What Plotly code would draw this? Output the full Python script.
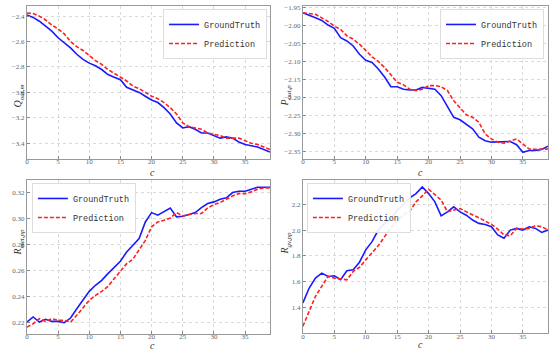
import plotly.graph_objects as go

c = list(range(40))

q_gt = [-2.39, -2.41, -2.44, -2.48, -2.518, -2.57, -2.61, -2.65, -2.70, -2.74, -2.77, -2.79, -2.82, -2.86, -2.88, -2.90,
        -2.96, -2.98, -3.00, -3.03, -3.06, -3.08, -3.12, -3.17, -3.24, -3.28, -3.27, -3.29, -3.32, -3.32,
        -3.34, -3.36, -3.35, -3.36, -3.39, -3.41, -3.42, -3.43, -3.45, -3.47]
q_pr = [-2.375, -2.38, -2.40, -2.43, -2.47, -2.50, -2.54, -2.60, -2.64, -2.67, -2.71, -2.75, -2.78, -2.82, -2.85, -2.88,
        -2.91, -2.95, -2.97, -3.00, -3.03, -3.05, -3.08, -3.12, -3.17, -3.24, -3.27, -3.28, -3.29, -3.32,
        -3.33, -3.34, -3.36, -3.36, -3.36, -3.38, -3.40, -3.41, -3.43, -3.45]

p_gt = [-1.966, -1.972, -1.980, -1.987, -2.000, -2.009, -2.035, -2.044, -2.058, -2.081, -2.098, -2.104, -2.122, -2.144,
        -2.171, -2.171, -2.178, -2.180, -2.180, -2.173, -2.175, -2.178, -2.196, -2.228, -2.256, -2.263, -2.275,
        -2.288, -2.311, -2.321, -2.325, -2.325, -2.323, -2.323, -2.332, -2.353, -2.348, -2.348, -2.345, -2.336]
p_pr = [-1.966, -1.968, -1.970, -1.980, -1.990, -2.003, -2.012, -2.030, -2.039, -2.053, -2.072, -2.088, -2.101, -2.118,
        -2.138, -2.159, -2.166, -2.178, -2.182, -2.178, -2.168, -2.168, -2.171, -2.182, -2.210, -2.230, -2.249,
        -2.256, -2.270, -2.302, -2.316, -2.325, -2.328, -2.322, -2.316, -2.330, -2.344, -2.345, -2.344, -2.344]

rm_gt = [0.2200, 0.2239, 0.2200, 0.2221, 0.2205, 0.2205, 0.2195, 0.2231, 0.2303, 0.2375, 0.2437, 0.2484, 0.2522,
         0.2574, 0.2618, 0.2669, 0.2741, 0.2793, 0.2844, 0.2973, 0.3045, 0.3025, 0.3051, 0.3081, 0.3012, 0.3017,
         0.3030, 0.3045, 0.3084, 0.3115, 0.3128, 0.3148, 0.3159, 0.3200, 0.3210, 0.3210, 0.3226, 0.3241, 0.3241, 0.3241]
rm_pr = [0.2161, 0.2187, 0.2226, 0.2205, 0.2226, 0.2213, 0.2213, 0.2200, 0.2252, 0.2308, 0.2368, 0.2406, 0.2437,
         0.2476, 0.2535, 0.2600, 0.2651, 0.2685, 0.2754, 0.2831, 0.2935, 0.2973, 0.2986, 0.3004, 0.3045, 0.3020,
         0.3030, 0.3038, 0.3038, 0.3081, 0.3107, 0.3123, 0.3148, 0.3174, 0.3192, 0.3192, 0.3205, 0.3226, 0.3236, 0.3236]

rg_gt = [1.434, 1.550, 1.627, 1.666, 1.640, 1.645, 1.614, 1.684, 1.692, 1.751, 1.847, 1.911, 2.001, 2.053, 2.086,
         2.156, 2.200, 2.252, 2.285, 2.337, 2.285, 2.221, 2.112, 2.143, 2.182, 2.143, 2.117, 2.079, 2.053, 2.045,
         2.027, 1.963, 1.937, 2.001, 2.014, 2.001, 2.027, 2.014, 1.983, 2.001]
rg_pr = [1.253, 1.369, 1.485, 1.563, 1.640, 1.627, 1.622, 1.614, 1.679, 1.710, 1.769, 1.828, 1.880, 1.950, 2.019,
         2.071, 2.123, 2.148, 2.221, 2.267, 2.319, 2.277, 2.234, 2.143, 2.156, 2.169, 2.143, 2.123, 2.097, 2.071,
         2.045, 2.009, 1.963, 1.957, 2.014, 2.009, 2.014, 2.035, 2.027, 2.001]

x_ticks = [0, 5, 10, 15, 20, 25, 30, 35]
q_ticks = [-2.4, -2.6, -2.8, -3.0, -3.2, -3.4]
p_ticks = [-1.95, -2.00, -2.05, -2.10, -2.15, -2.20, -2.25, -2.30, -2.35]
rm_ticks = [0.22, 0.24, 0.26, 0.28, 0.30, 0.32]
rg_ticks = [1.4, 1.6, 1.8, 2.0, 2.2]

y_titles = ["<i>Q<sub>out,m</sub></i>", "<i>P<sub>out,p</sub></i>",
            "<i>R<sub>met,pp</sub></i>", "<i>R<sub>gv,pp</sub></i>"]

W, H = 550, 351
FONT = "Liberation Serif"

panels = [
    (q_gt, q_pr, q_ticks, ".1f", [-3.525, -2.32], 25, 269, 4, 158),
    (p_gt, p_pr, p_ticks, ".2f", [-2.372, -1.947], 302, 548, 4, 158),
    (rm_gt, rm_pr, rm_ticks, ".2f", [0.2107, 0.3297], 25, 269, 179, 334),
    (rg_gt, rg_pr, rg_ticks, ".1f", [1.199, 2.391], 302, 548, 179, 333),
]
legend_pos = [("right", 266, 7), ("right", 544, 7), ("left", 30, 182), ("left", 306, 182)]
c_offset = [13, 13, 11, 11]

fig = go.Figure()
layout = dict(width=W, height=H, margin=dict(l=0, r=0, t=0, b=0),
              paper_bgcolor="white", plot_bgcolor="white", showlegend=True,
              font=dict(family=FONT, color="#555"))
annotations = []
for i, (gt, pr, ticks, fmt, yr, l, r, t, b) in enumerate(panels):
    n = "" if i == 0 else str(i + 1)
    leg = "legend" if i == 0 else f"legend{i + 1}"
    fig.add_trace(go.Scatter(x=c, y=gt, mode="lines", name="GroundTruth",
                             line=dict(color="#1a1aff", width=1.6),
                             xaxis=f"x{n}", yaxis=f"y{n}", legend=leg))
    fig.add_trace(go.Scatter(x=c, y=pr, mode="lines", name="Prediction",
                             line=dict(color="#ff2020", width=1.6, dash="4px,2px"),
                             xaxis=f"x{n}", yaxis=f"y{n}", legend=leg))
    axis_common = dict(showline=True, linecolor="#999", linewidth=1, mirror=True,
                       ticks="inside", ticklen=3, tickcolor="#888",
                       showgrid=True, gridcolor="#d9d9d9", griddash="dot", gridwidth=1,
                       zeroline=False, tickfont=dict(size=7, color="#666", family=FONT))
    layout[f"xaxis{n}"] = dict(domain=[l / W, r / W], range=[0, 39], tickvals=x_ticks,
                               anchor=f"y{n}", ticklabelstandoff=-4, **axis_common)
    layout[f"yaxis{n}"] = dict(domain=[1 - b / H, 1 - t / H], range=yr, tickvals=ticks,
                               tickformat=fmt, anchor=f"x{n}", **axis_common)
    side, lx, ly = legend_pos[i]
    layout[leg] = dict(x=lx / W, y=1 - ly / H, xanchor=side, yanchor="top",
                       bgcolor="rgba(255,255,255,0.9)", bordercolor="#ddd", borderwidth=1,
                       font=dict(size=8.5, color="#333", family="Liberation Mono"),
                       itemwidth=30, tracegroupgap=0)
    annotations.append(dict(text=y_titles[i], x=(l - 17) / W, y=1 - (t + b) / 2 / H,
                            xref="paper", yref="paper", showarrow=False, textangle=-90,
                            font=dict(size=10, color="#333", family=FONT)))
    annotations.append(dict(text="<i>c</i>", x=(l + r) / 2 / W, y=1 - (b + c_offset[i]) / H,
                            xref="paper", yref="paper", showarrow=False, yanchor="middle",
                            font=dict(size=10, color="#333", family=FONT)))
layout["annotations"] = annotations
fig.update_layout(**layout)
fig.write_html("out.html", config={"displayModeBar": False},
               post_script="document.body.style.margin='0';document.body.style.overflow='hidden';")
